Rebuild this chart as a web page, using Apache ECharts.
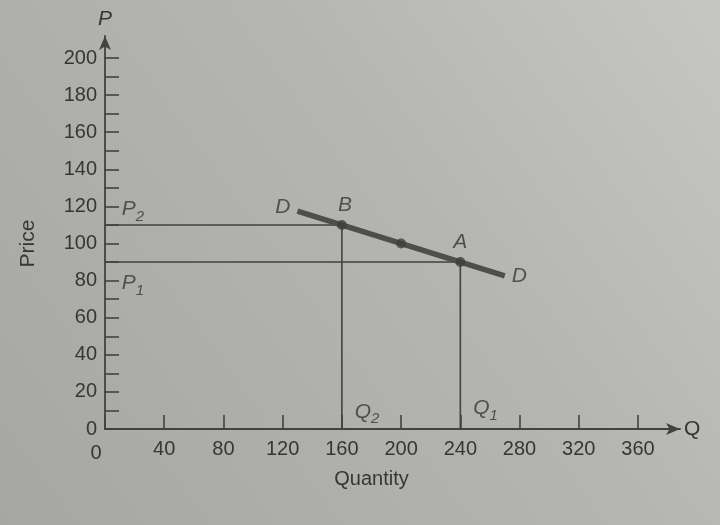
<!DOCTYPE html>
<html>
<head>
<meta charset="utf-8">
<script src="https://cdn.jsdelivr.net/npm/echarts@6/dist/echarts.min.js"></script>
<style>
html,body{margin:0;padding:0;background:#b3b4b0;}
#c{width:720px;height:525px;}
</style>
</head>
<body>
<div id="c"></div>
<script>
// ---- data ----
const quantityMin = 0, quantityMax = 360, quantityStep = 40;
const priceMin = 0, priceMax = 200, priceStep = 10, priceLabelStep = 20;

// demand curve D-D end points
const demandQ = [130, 270];
const demandP = [117.5, 82.5];

// marked points on demand curve
const pointNames = ['B', '', 'A'];
const pointQ = [160, 200, 240];
const pointP = [110, 100, 90];

// price levels / quantities (drop lines)
const levelQ = [160, 240];
const levelP = [110, 90];

// axis annotation labels
const priceTagNames = ['P{s|2}', 'P{s|1}'];
const priceTagAt = [120, 80];
const qtyTagNames = ['Q{s|2}', 'Q{s|1}'];
const qtyTagAt = [177, 257];
const qtyTagHeight = [9, 11];

// ---- chart ----
const ink = '#363636';
const lineInk = '#424242';
const font = 'Liberation Sans';
const chart = echarts.init(document.getElementById('c'));

const rich = { s: { fontSize: 15, color: ink, fontFamily: font, fontStyle: 'italic', padding: [14, 0, 0, 0] } };

const dropLines = levelQ.map((q, i) => ({
  type: 'line', xAxisIndex: 0, yAxisIndex: 0, symbol: 'none', silent: true,
  lineStyle: { color: lineInk, width: 1.6 },
  data: [[quantityMin, levelP[i]], [q, levelP[i]], [q, priceMin]],
  z: 2
}));

const labelData = [];
priceTagNames.forEach((n, i) => labelData.push({ value: [8, priceTagAt[i]], label: { formatter: n, position: 'right', offset: [0, 3] } }));
qtyTagNames.forEach((n, i) => labelData.push({ value: [qtyTagAt[i], qtyTagHeight[i]], label: { formatter: n, position: 'inside' } }));
labelData.push({ value: [demandQ[0], demandP[0]], label: { formatter: 'D', position: 'left', offset: [-2, -4] } });
labelData.push({ value: [demandQ[1], demandP[1]], label: { formatter: 'D', position: 'right', offset: [2, 0] } });
pointNames.forEach((n, i) => { if (n) labelData.push({ value: [pointQ[i], pointP[i]], label: { formatter: n, position: 'top', offset: [n === 'B' ? 3 : 0, -4] } }); });

chart.setOption({
  backgroundColor: {
    type: 'linear', x: 0, y: 1, x2: 1, y2: 0,
    colorStops: [{ offset: 0, color: '#a6a7a3' }, { offset: 0.6, color: '#b5b6b2' }, { offset: 1, color: '#c6c7c3' }]
  },
  animation: false,
  textStyle: { fontFamily: font, color: ink },
  grid: [
    { left: 105, right: 82, top: 58, bottom: 96 },
    { left: 105, right: 40, top: 36, bottom: 96 }
  ],
  xAxis: [
    {
      type: 'value', gridIndex: 0, min: quantityMin, max: quantityMax, interval: quantityStep,
      axisLine: { show: false },
      axisTick: { show: true, inside: true, length: 14, lineStyle: { color: lineInk, width: 1.6 } },
      axisLabel: {
        color: ink, fontSize: 20, margin: 10, fontFamily: font,
        formatter: v => v === 0 ? '{z|0}' : String(v),
        rich: { z: { fontSize: 20, color: ink, fontFamily: font, padding: [4, 18, 0, 0] } }
      },
      splitLine: { show: false },
      name: 'Quantity', nameLocation: 'middle', nameGap: 40,
      nameTextStyle: { fontSize: 20, color: ink, fontFamily: font }
    },
    {
      type: 'value', gridIndex: 1, min: 0, max: 1,
      axisLine: { show: true, lineStyle: { color: lineInk, width: 1.8 }, symbol: ['none', 'arrow'], symbolSize: [9, 14] },
      axisTick: { show: false }, axisLabel: { show: false }, splitLine: { show: false },
      name: 'Q', nameLocation: 'end', nameGap: 4,
      nameTextStyle: { fontSize: 21, color: ink, fontFamily: font }
    }
  ],
  yAxis: [
    {
      type: 'value', gridIndex: 0, min: priceMin, max: priceMax, interval: priceStep,
      axisLine: { show: false },
      axisTick: { show: true, inside: true, length: 14, lineStyle: { color: lineInk, width: 1.6 } },
      axisLabel: { color: ink, fontSize: 20, margin: 8, fontFamily: font, formatter: v => v % priceLabelStep === 0 ? String(v) : '' },
      splitLine: { show: false },
      name: 'Price', nameLocation: 'middle', nameGap: 66, nameRotate: 90,
      nameTextStyle: { fontSize: 21, color: ink, fontFamily: font }
    },
    {
      type: 'value', gridIndex: 1, min: 0, max: 1,
      axisLine: { show: true, lineStyle: { color: lineInk, width: 1.8 }, symbol: ['none', 'arrow'], symbolSize: [9, 14] },
      axisTick: { show: false }, axisLabel: { show: false }, splitLine: { show: false },
      name: 'P', nameLocation: 'end', nameGap: 6,
      nameTextStyle: { fontSize: 21, color: ink, fontFamily: font, fontStyle: 'italic' }
    }
  ],
  series: [
    ...dropLines,
    {
      type: 'line', xAxisIndex: 0, yAxisIndex: 0, symbol: 'none', silent: true,
      lineStyle: { color: '#4e4e4e', width: 5.5 },
      data: demandQ.map((q, i) => [q, demandP[i]]),
      z: 3
    },
    {
      type: 'scatter', xAxisIndex: 0, yAxisIndex: 0, symbolSize: 10,
      itemStyle: { color: '#3e3e3e' },
      data: pointQ.map((q, i) => [q, pointP[i]]),
      z: 4
    },
    {
      type: 'scatter', xAxisIndex: 0, yAxisIndex: 0, symbolSize: 0, silent: true,
      label: { show: true, fontSize: 21, color: ink, fontFamily: font, fontStyle: 'italic', rich: rich },
      data: labelData,
      z: 5
    }
  ]
});
</script>
</body>
</html>
